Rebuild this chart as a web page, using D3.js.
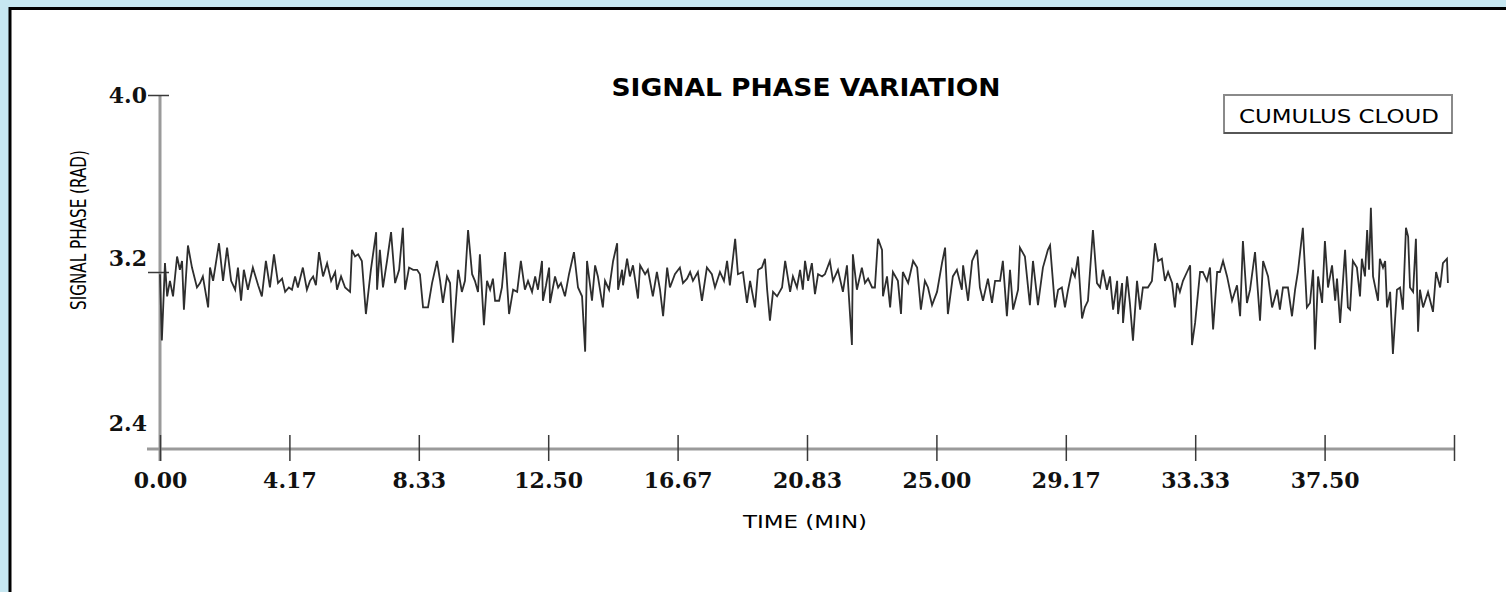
<!DOCTYPE html>
<html>
<head>
<meta charset="utf-8">
<script src="https://cdn.jsdelivr.net/npm/d3@7"></script>
<style>
  body { margin: 0; background: #c6e7f1; }
  svg { display: block; }
</style>
</head>
<body>
<div id="chart"></div>
<script>
// time in minutes, phase in radians
var timeMin = [
  0.00,0.06,0.16,0.23,0.32,0.42,0.55,0.64,0.71,0.77,0.90,1.03,1.19,1.29,1.38,1.55,1.61,1.71,1.90,2.03,
  2.16,2.29,2.42,2.51,2.61,2.70,2.83,2.99,3.16,3.28,3.41,3.54,3.67,3.80,3.93,4.03,4.15,4.25,4.35,4.44,
  4.60,4.73,4.83,4.93,5.02,5.12,5.25,5.38,5.51,5.64,5.70,5.83,5.96,6.12,6.18,6.28,6.38,6.50,6.63,6.79,
  6.96,6.99,7.08,7.18,7.31,7.44,7.57,7.70,7.82,7.89,8.02,8.15,8.28,8.37,8.47,8.63,8.76,8.92,9.02,9.11,
  9.24,9.34,9.43,9.60,9.72,9.82,9.92,10.05,10.14,10.24,10.30,10.43,10.53,10.63,10.72,10.79,10.92,11.01,11.11,11.24,
  11.37,11.50,11.62,11.75,11.85,11.98,12.08,12.17,12.30,12.33,12.43,12.53,12.56,12.72,12.82,12.91,13.04,13.17,13.33,13.46,
  13.59,13.69,13.75,13.91,14.01,14.10,14.26,14.33,14.46,14.59,14.72,14.75,14.88,14.91,15.04,15.13,15.23,15.39,15.46,15.62,
  15.71,15.87,16.00,16.10,16.20,16.33,16.42,16.58,16.74,16.84,16.97,17.07,17.16,17.32,17.45,17.61,17.77,17.87,18.03,18.16,
  18.26,18.35,18.52,18.61,18.77,18.90,19.00,19.16,19.26,19.38,19.48,19.55,19.64,19.74,19.87,20.03,20.13,20.29,20.38,20.51,
  20.61,20.70,20.77,20.87,20.99,21.09,21.19,21.32,21.41,21.57,21.67,21.83,21.99,22.12,22.28,22.31,22.44,22.60,22.70,22.80,
  22.93,23.02,23.12,23.25,23.28,23.41,23.51,23.60,23.76,23.86,23.92,24.09,24.25,24.38,24.50,24.63,24.73,24.86,25.02,25.18,
  25.28,25.37,25.53,25.66,25.82,25.86,26.02,26.15,26.31,26.40,26.50,26.66,26.79,26.89,27.05,27.14,27.27,27.37,27.47,27.63,
  27.69,27.85,28.01,28.11,28.27,28.43,28.59,28.66,28.82,28.92,29.04,29.14,29.24,29.37,29.46,29.56,29.69,29.78,29.88,30.04,
  30.17,30.27,30.36,30.49,30.59,30.69,30.82,30.85,30.98,31.01,31.14,31.23,31.33,31.46,31.56,31.65,31.81,31.94,32.04,32.14,
  32.26,32.36,32.46,32.59,32.68,32.75,32.84,32.94,33.07,33.17,33.23,33.33,33.49,33.58,33.71,33.81,33.91,34.04,34.13,34.23,
  34.36,34.52,34.68,34.78,34.87,35.00,35.10,35.26,35.42,35.52,35.68,35.81,35.97,36.06,36.16,36.32,36.45,36.55,36.64,36.80,
  36.93,37.03,37.13,37.19,37.29,37.42,37.51,37.61,37.74,37.84,37.90,38.00,38.16,38.25,38.32,38.41,38.54,38.64,38.70,38.80,
  38.87,38.93,38.99,39.06,39.22,39.28,39.38,39.45,39.51,39.61,39.70,39.83,39.93,40.02,40.12,40.19,40.25,40.35,40.44,40.51,
  40.57,40.67,40.83,40.99,41.09,41.22,41.31,41.44,41.47
];
var phaseRad = [
  3.19,2.89,3.24,3.09,3.16,3.09,3.27,3.21,3.25,3.03,3.32,3.22,3.13,3.15,3.18,3.04,3.22,3.16,3.33,3.16,
  3.31,3.16,3.12,3.22,3.07,3.21,3.12,3.22,3.14,3.09,3.25,3.13,3.28,3.15,3.17,3.11,3.13,3.12,3.18,3.13,
  3.22,3.12,3.16,3.18,3.14,3.29,3.18,3.24,3.16,3.20,3.12,3.18,3.13,3.11,3.30,3.27,3.28,3.25,3.01,3.21,
  3.38,3.12,3.30,3.13,3.25,3.38,3.15,3.21,3.40,3.12,3.22,3.21,3.21,3.19,3.04,3.04,3.15,3.25,3.16,3.06,
  3.18,3.15,2.88,3.21,3.11,3.16,3.39,3.19,3.16,3.11,3.28,2.96,3.16,3.12,3.17,3.07,3.07,3.13,3.29,3.01,
  3.12,3.11,3.25,3.12,3.16,3.11,3.18,3.12,3.25,3.07,3.14,3.22,3.06,3.18,3.13,3.15,3.09,3.19,3.29,3.13,
  3.09,2.84,3.25,3.07,3.23,3.18,3.04,3.16,3.12,3.25,3.33,3.12,3.21,3.14,3.26,3.18,3.23,3.08,3.23,3.19,
  3.21,3.09,3.20,3.12,3.00,3.22,3.13,3.19,3.22,3.15,3.17,3.20,3.16,3.20,3.07,3.22,3.19,3.13,3.20,3.16,
  3.25,3.14,3.35,3.19,3.20,3.06,3.16,3.04,3.21,3.22,3.26,3.12,2.98,3.11,3.09,3.13,3.25,3.11,3.18,3.13,
  3.21,3.12,3.25,3.16,3.24,3.10,3.19,3.18,3.19,3.25,3.16,3.21,3.11,3.23,2.87,3.28,3.12,3.22,3.15,3.17,
  3.13,3.13,3.35,3.30,3.09,3.18,3.04,3.20,3.16,3.01,3.20,3.15,3.25,3.22,3.03,3.16,3.13,3.05,3.11,3.24,
  3.31,3.01,3.18,3.21,3.12,3.23,3.07,3.25,3.30,3.13,3.07,3.17,3.06,3.16,3.16,3.25,3.00,3.21,3.03,3.12,
  3.31,3.27,3.05,3.25,3.05,3.22,3.30,3.32,3.04,3.12,3.13,3.04,3.12,3.21,3.18,3.27,2.99,3.04,3.07,3.39,
  3.15,3.13,3.21,3.12,3.18,3.03,3.16,3.01,3.15,2.97,3.18,3.06,2.89,3.16,3.03,3.13,3.13,3.16,3.33,3.25,
  3.26,3.16,3.20,3.15,3.04,3.15,3.11,3.16,3.20,3.23,2.87,2.97,3.20,3.20,3.16,3.22,2.94,3.20,3.20,3.25,
  3.18,3.07,3.14,3.00,3.34,3.06,3.12,3.29,2.98,3.25,3.18,3.04,3.12,3.03,3.13,3.13,3.00,3.12,3.20,3.40,
  3.04,3.06,3.21,2.85,3.18,3.06,3.34,3.13,3.23,3.07,3.17,2.97,3.30,3.04,3.03,3.25,3.22,3.09,3.26,3.18,
  3.39,3.21,3.49,3.18,3.07,3.26,3.22,3.25,3.04,3.11,2.83,3.12,3.13,3.03,3.40,3.36,3.13,3.11,3.35,2.93,
  3.12,3.04,3.11,3.02,3.20,3.13,3.24,3.26,3.15
];

var yTicks = [2.4, 3.2, 4.0];
var yTickLabels = ['2.4', '3.2', '4.0'];
var xTicks = [0, 4.1667, 8.3333, 12.5, 16.6667, 20.8333, 25, 29.1667, 33.3333, 37.5, 41.6667];
var xTickLabels = ['0.00', '4.17', '8.33', '12.50', '16.67', '20.83', '25.00', '29.17', '33.33', '37.50', ''];

var width = 1506, height = 592;
var svg = d3.select('#chart').append('svg').attr('width', width).attr('height', height);

// white panel with black frame
svg.append('rect').attr('x', 10).attr('y', 8.5).attr('width', 1600).attr('height', 700)
  .attr('fill', '#fff').attr('stroke', '#000').attr('stroke-width', 3);

var x = d3.scaleLinear().domain([0, 41.6667]).range([160, 1454]);
var y = d3.scaleLinear().domain([2.4, 4.0]).range([449, 95]);

// axis lines (grey, drawn by hand so they overhang like the original)
svg.append('line').attr('x1', x(0)).attr('x2', x(0)).attr('y1', y(4.0)).attr('y2', y(2.4) + 12)
  .attr('stroke', '#9a9a9a').attr('stroke-width', 3);
svg.append('line').attr('x1', x(0) - 13).attr('x2', x(41.6667)).attr('y1', y(2.4)).attr('y2', y(2.4))
  .attr('stroke', '#9a9a9a').attr('stroke-width', 3);

// x axis ticks
var xAxis = d3.axisBottom(x).tickValues(xTicks)
  .tickFormat(function (d, i) { return xTickLabels[i]; });
var xg = svg.append('g').attr('transform', 'translate(0,' + y(2.4) + ')').call(xAxis);
xg.select('.domain').remove();
xg.selectAll('.tick line').attr('y1', -14).attr('y2', 12).attr('stroke', '#3a3a3a').attr('stroke-width', 1.5);
xg.selectAll('.tick text').attr('y', 39).attr('dy', null)
  .style('font-family', '"DejaVu Serif", serif').style('font-weight', 'bold').style('font-size', '22px').attr('fill', '#111');

// y axis ticks
var yAxis = d3.axisLeft(y).tickValues(yTicks)
  .tickFormat(function (d, i) { return yTickLabels[i]; });
var yg = svg.append('g').attr('transform', 'translate(' + x(0) + ',0)').call(yAxis);
yg.select('.domain').remove();
yg.selectAll('.tick line').attr('x1', -12).attr('x2', 9).attr('stroke', '#3a3a3a').attr('stroke-width', 1.5)
  .style('display', function (d) { return d === 2.4 ? 'none' : null; });
yg.selectAll('.tick text').attr('x', -13)
  .attr('dy', function (d) { return d === 4.0 ? '0.35em' : (d === 3.2 ? '-0.3em' : '-0.85em'); })
  .style('font-family', '"DejaVu Serif", serif').style('font-weight', 'bold').style('font-size', '22px').attr('fill', '#111');

// data line
var line = d3.line()
  .x(function (d, i) { return x(timeMin[i]); })
  .y(function (d) { return y(d); });
svg.append('path').datum(phaseRad).attr('d', line)
  .attr('fill', 'none').attr('stroke', '#2e2e2e').attr('stroke-width', 1.8).attr('stroke-linejoin', 'miter');

// title and axis labels
svg.append('text').attr('x', 806).attr('y', 96).attr('text-anchor', 'middle')
  .attr('textLength', 389).attr('lengthAdjust', 'spacingAndGlyphs')
  .style('font-family', '"DejaVu Sans", sans-serif').style('font-weight', 'bold').style('font-size', '24px')
  .text('SIGNAL PHASE VARIATION');

svg.append('text').attr('transform', 'translate(86,230) rotate(-90)').attr('text-anchor', 'middle')
  .attr('textLength', 160).attr('lengthAdjust', 'spacingAndGlyphs')
  .style('font-family', '"DejaVu Sans", sans-serif').style('font-size', '21px')
  .text('SIGNAL PHASE (RAD)');

svg.append('text').attr('x', 805).attr('y', 528).attr('text-anchor', 'middle')
  .attr('textLength', 124).attr('lengthAdjust', 'spacingAndGlyphs')
  .style('font-family', '"DejaVu Sans", sans-serif').style('font-size', '18px')
  .text('TIME (MIN)');

// legend box
var lg = svg.append('g');
lg.append('rect').attr('x', 1224).attr('y', 95).attr('width', 228).attr('height', 38)
  .attr('fill', '#fff').attr('stroke', '#8a8a8a').attr('stroke-width', 2);
lg.append('line').attr('x1', 1224).attr('x2', 1452).attr('y1', 133).attr('y2', 133)
  .attr('stroke', '#444').attr('stroke-width', 1.5);
lg.append('text').attr('x', 1339).attr('y', 123).attr('text-anchor', 'middle')
  .attr('textLength', 200).attr('lengthAdjust', 'spacingAndGlyphs')
  .style('font-family', '"DejaVu Sans", sans-serif').style('font-size', '19px')
  .text('CUMULUS CLOUD');
</script>
</body>
</html>
